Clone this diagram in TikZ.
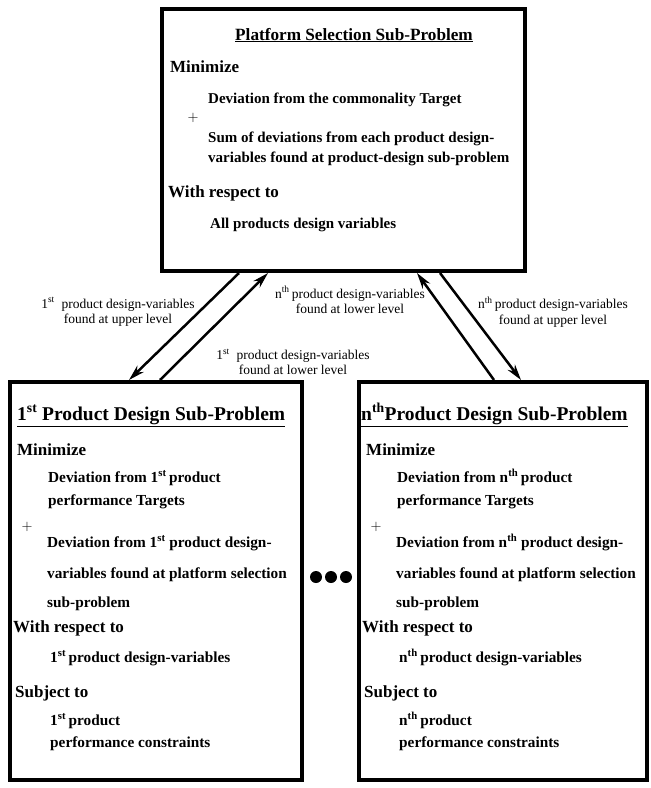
\documentclass[tikz,border=0pt]{standalone}
\usepackage{fontspec}
\setmainfont{Liberation Serif}
\usetikzlibrary{arrows.meta}

\begin{document}
\begin{tikzpicture}
  [x=1pt,y=-1pt,
   box/.style={draw,line width=4pt,outer sep=2pt,inner sep=0pt},
   txt/.style={anchor=base west,inner sep=0pt,font=\fontsize{15.3}{18}\selectfont\bfseries},
   hd/.style={txt,font=\fontsize{17}{20}\selectfont\bfseries},
   ttl/.style={inner sep=0pt,font=\fontsize{19.5}{22}\selectfont\bfseries},
   plus/.style={inner sep=0pt,font=\fontsize{15}{18}\selectfont},
   lbl/.style={align=center,inner sep=0pt,font=\fontsize{13.5}{15.5}\selectfont},
   dot/.style={circle,fill=black,inner sep=0pt,minimum size=12pt},
   arr/.style={line width=2.5pt,-{Stealth[length=16pt,width=9pt]}}]

  \useasboundingbox (0,0) rectangle (651,788);

  % boxes
  \node[box,minimum width=363pt,minimum height=262pt] (ps) at (343.5,140) {};
  \node[box,minimum width=292pt,minimum height=398pt] (p1) at (156,581) {};
  \node[box,minimum width=288pt,minimum height=398pt] (pn) at (503,581) {};

  % platform selection sub-problem
  \node[ttl,font=\fontsize{17.2}{20}\selectfont\bfseries,anchor=base] (ps-t) at (354,40) {\underline{Platform Selection Sub-Problem}};
  \node[hd] (ps-min) at (170,72) {Minimize};
  \node[txt,font=\fontsize{15}{18}\selectfont\bfseries] (ps-d1) at (208,103) {Deviation from the commonality Target};
  \node[plus] (ps-plus) at (193,118) {$+$};
  \node[txt,font=\fontsize{15}{18}\selectfont\bfseries] (ps-d2) at (208,142) {Sum of deviations from each product design-};
  \node[txt,font=\fontsize{15}{18}\selectfont\bfseries] (ps-d3) at (208,162) {variables found at product-design sub-problem};
  \node[hd] (ps-wrt) at (168,197) {With respect to};
  \node[txt,font=\fontsize{15}{18}\selectfont\bfseries] (ps-v) at (210,228) {All products design variables};

  % product design sub-problems
  \node[ttl,anchor=base west] (p1-t) at (17,420) {\underline{1\textsuperscript{st} Product Design Sub-Problem}};
  \node[ttl,anchor=base west] (pn-t) at (361,420) {\underline{n\textsuperscript{th}Product Design Sub-Problem}};
  \foreach \bx/\o/\ord in {p1/0/1\textsuperscript{st},pn/349/n\textsuperscript{th}}{
    \begin{scope}[xshift=\o pt]
      \node[hd] (\bx-min) at (17,455) {Minimize};
      \node[txt] (\bx-d1) at (48,482) {Deviation from \ord\,product};
      \node[txt] (\bx-d2) at (48,505) {performance Targets};
      \node[plus] (\bx-plus) at (27,527) {$+$};
      \node[txt] (\bx-d3) at (47,547) {Deviation from \ord\ product design-};
      \node[txt] (\bx-d4) at (47,578) {variables found at platform selection};
      \node[txt] (\bx-d5) at (47,607) {sub-problem};
      \node[hd] (\bx-wrt) at (13,632) {With respect to};
      \node[txt] (\bx-v) at (50,662) {\ord\,product design-variables};
      \node[hd] (\bx-st) at (15,697) {Subject to};
      \node[txt] (\bx-c1) at (50,725) {\ord\,product};
      \node[txt] (\bx-c2) at (50,747) {performance constraints};
    \end{scope}
  }

  % dots between the boxes
  \foreach \i/\x in {1/316,2/331,3/346}
    \node[dot] (dot\i) at (\x,577) {};

  % arrow labels
  \node[lbl] (l1) at (118,312) {1\textsuperscript{st}\ \ product design-variables\\found at upper level};
  \node[lbl] (l2) at (350,300) {n\textsuperscript{th}\,product design-variables\\found at lower level};
  \node[lbl] (l3) at (293,362) {1\textsuperscript{st}\ \ product design-variables\\found at lower level};
  \node[lbl] (l4) at (553,312) {n\textsuperscript{th}\,product design-variables\\found at upper level};

  % arrows
  \draw[arr] ([xshift=79pt]ps.south west) -- ([xshift=121pt]p1.north west);
  \draw[arr] ([xshift=152pt]p1.north west) -- ([xshift=108pt]ps.south west);
  \draw[arr] ([xshift=137pt]pn.north west) -- ([xshift=257pt]ps.south west);
  \draw[arr] ([xshift=280pt]ps.south west) -- ([xshift=164pt]pn.north west);
\end{tikzpicture}
\end{document}
